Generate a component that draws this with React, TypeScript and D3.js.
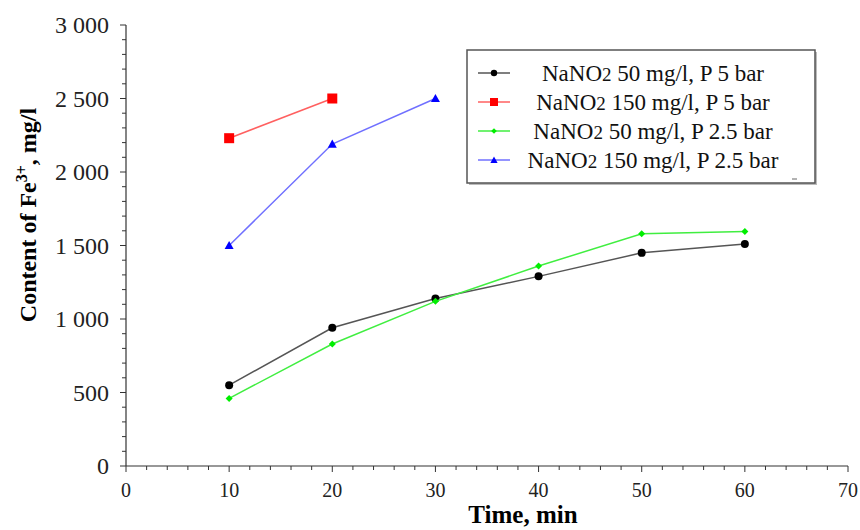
import React from 'react';
import * as d3 from 'd3';

const times = [10, 20, 30, 40, 50, 60];
const black5bar = [550, 940, 1140, 1290, 1450, 1510];
const red5bar = [2230, 2500];
const green25bar = [460, 830, 1120, 1360, 1580, 1595];
const blue25bar = [1500, 2190, 2500];

const xTicks = [0, 10, 20, 30, 40, 50, 60, 70];
const yTicks = [0, 500, 1000, 1500, 2000, 2500, 3000];

const series = [
    { name: '50 mg/l, P 5 bar', values: black5bar, line: '#555555', mark: '#000000', shape: 'circle' },
    { name: '150 mg/l, P 5 bar', values: red5bar, line: '#ff6060', mark: '#ff0000', shape: 'square' },
    { name: '50 mg/l, P 2.5 bar', values: green25bar, line: '#40ee40', mark: '#00ee00', shape: 'diamond' },
    { name: '150 mg/l, P 2.5 bar', values: blue25bar, line: '#7070ff', mark: '#0000ff', shape: 'triangle' },
];

const W = 860;
const H = 530;

const font = '"Liberation Serif", "Times New Roman", serif';

const Marker: React.FC<{ shape: string; x: number; y: number; color: string; small?: boolean }> = ({ shape, x, y, color, small }) => {
    const k = small ? 0.8 : 1;
    if (shape === 'circle') return <circle cx={x} cy={y} r={4 * k} fill={color} />;
    if (shape === 'square') return <rect x={x - 5 * k} y={y - 5 * k} width={10 * k} height={10 * k} fill={color} />;
    if (shape === 'diamond') {
        const s = 3.5 * k;
        return <path d={`M${x},${y - s}L${x + s},${y}L${x},${y + s}L${x - s},${y}Z`} fill={color} />;
    }
    const s = 4.5 * k;
    return <path d={`M${x},${y - s}L${x + s},${y + s * 0.8}L${x - s},${y + s * 0.8}Z`} fill={color} />;
};

export default function App() {
    const x = d3.scaleLinear().domain([0, 70]).range([126, 848]);
    const y = d3.scaleLinear().domain([0, 3000]).range([466, 25]);
    const fmt = (v: number) => (v >= 1000 ? `${Math.floor(v / 1000)} ${String(v % 1000).padStart(3, '0')}` : String(v));

    const line = d3.line<[number, number]>().x(d => x(d[0])).y(d => y(d[1]));

    const xMinor = d3.range(0, 71, 2);
    const yMinor = d3.range(0, 3001, 100);

    const legend = { x: 467, y: 50, w: 348, h: 133 };

    return (
        <svg width={W} height={H} style={{ display: 'block', position: 'absolute', left: 0, top: 0, background: '#fff' }}>
            {/* axes */}
            <line x1={x(0)} x2={x(70)} y1={y(0)} y2={y(0)} stroke="#333" strokeWidth={1.2} />
            <line x1={x(0)} x2={x(0)} y1={y(0)} y2={y(3000)} stroke="#333" strokeWidth={1.2} />
            {xMinor.map(t => (
                <line key={'xm' + t} x1={x(t)} x2={x(t)} y1={y(0)} y2={y(0) + (t % 10 === 0 ? 6 : 4)} stroke="#333" />
            ))}
            {yMinor.map(t => (
                <line key={'ym' + t} x1={x(0)} x2={x(0) - (t % 500 === 0 ? 6 : 4)} y1={y(t)} y2={y(t)} stroke="#333" />
            ))}
            {xTicks.map(t => (
                <text key={'xt' + t} x={x(t)} y={y(0) + 31} textAnchor="middle" fontFamily={font} fontSize={20} fill="#222">{t}</text>
            ))}
            {yTicks.map(t => (
                <text key={'yt' + t} x={x(0) - 17} y={y(t)} dy="0.35em" textAnchor="end" fontFamily={font} fontSize={24} fill="#222">{fmt(t)}</text>
            ))}
            <text x={523} y={523} textAnchor="middle" fontFamily={font} fontSize={25} fontWeight="bold" fill="#000">Time, min</text>
            <text transform={`translate(36,215) rotate(-90)`} textAnchor="middle" fontFamily={font} fontSize={24} fontWeight="bold" fill="#000">
                Content of Fe<tspan dy={-9} fontSize={16}>3+</tspan><tspan dy={9}>, mg/l</tspan>
            </text>

            {/* series */}
            {series.map(s => {
                const pts = s.values.map((v, i) => [times[i], v] as [number, number]);
                return (
                    <g key={s.name}>
                        <path d={line(pts) || ''} fill="none" stroke={s.line} strokeWidth={1.5} />
                        {pts.map((p, i) => (
                            <Marker key={i} shape={s.shape} x={x(p[0])} y={y(p[1])} color={s.mark} />
                        ))}
                    </g>
                );
            })}

            {/* legend */}
            <rect x={legend.x + 2} y={legend.y + 2} width={legend.w} height={legend.h} fill="#bbb" />
            <rect x={legend.x} y={legend.y} width={legend.w} height={legend.h} fill="#fff" stroke="#555" strokeWidth={1.5} />
            {series.map((s, i) => {
                const ly = legend.y + 23 + i * 29;
                return (
                    <g key={'lg' + i}>
                        <line x1={478} x2={510} y1={ly} y2={ly} stroke={s.line} strokeWidth={1.5} />
                        <Marker shape={s.shape} x={494} y={ly} color={s.mark} small />
                        <text x={653} y={ly} dy="0.35em" textAnchor="middle" fontFamily={font} fontSize={23} fill="#111">
                            NaNO<tspan fontSize={19}>2</tspan> {s.name}
                        </text>
                    </g>
                );
            })}
            <line x1={792} x2={797} y1={179} y2={179} stroke="#666" />
        </svg>
    );
}
